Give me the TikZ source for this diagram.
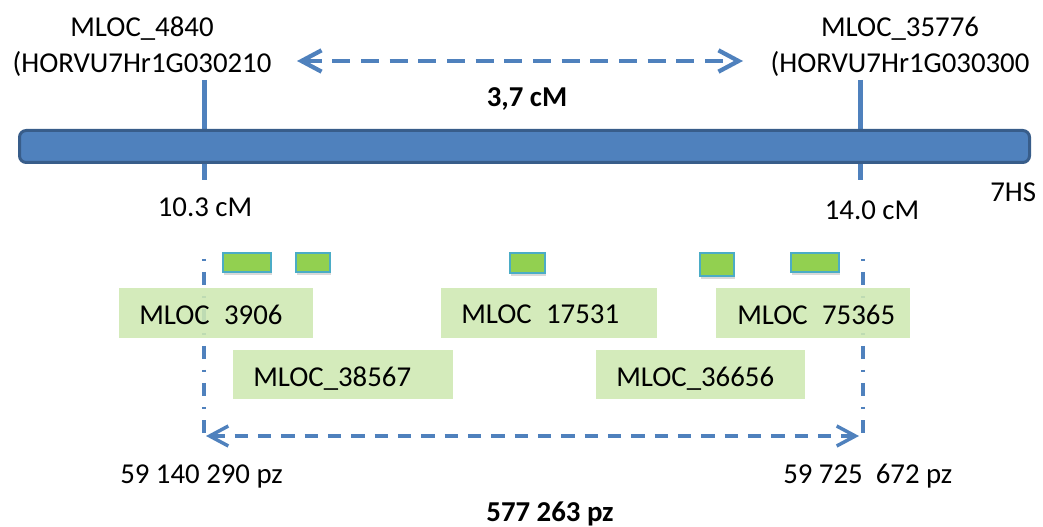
\documentclass[tikz,border=0pt]{standalone}
\usepackage{fontspec}
\setmainfont{Carlito}
\usetikzlibrary{arrows.meta,shadows}
\definecolor{barblue}{RGB}{79,129,189}
\definecolor{bardark}{RGB}{56,93,138}
\definecolor{lgreen}{RGB}{206,232,178}
\definecolor{sgreen}{RGB}{146,208,80}
\definecolor{sborder}{RGB}{75,172,198}
\begin{document}
\begin{tikzpicture}[x=0.75pt,y=-0.75pt,
  every node/.style={font=\fontsize{21.6}{26}\selectfont, inner sep=0pt},
  txt/.style={anchor=base},
  txtl/.style={anchor=base west},
  boldtxt/.style={anchor=base, font=\fontsize{21.6}{26}\selectfont\bfseries},
  tickline/.style={draw=barblue, line width=3.75pt},
  chrbar/.style={draw=bardark, fill=barblue, line width=2.25pt, rounded corners=5pt},
  toparrow/.style={draw=barblue, line width=3.2pt, dash pattern=on 13.5pt off 8pt,
     {Straight Barb[length=15pt,width=16pt]}-{Straight Barb[length=15pt,width=16pt]}},
  botarrow/.style={draw=barblue, line width=2.6pt, dash pattern=on 10pt off 7.5pt,
     {Straight Barb[length=14pt,width=15pt]}-{Straight Barb[length=14pt,width=15pt]}},
  dashdotline/.style={draw=barblue, line width=2.6pt, dash pattern=on 1.5pt off 8.25pt on 9.75pt off 8.25pt},
  sbox/.style={fill=sgreen, draw=sborder, line width=1.5pt,
     drop shadow={opacity=0.3, shadow xshift=0.5pt, shadow yshift=-2.5pt}},
  lbox/.style={fill=lgreen, fill opacity=0.88}
]
\useasboundingbox (0,0) rectangle (1043,527);

% marker ticks
\coordinate (t1a) at (204,80);  \coordinate (t1b) at (204,180);
\coordinate (t2a) at (860,80);  \coordinate (t2b) at (860,180);
\draw[tickline] (t1a) -- (t1b);
\draw[tickline] (t2a) -- (t2b);

% chromosome
\draw[chrbar] (19.5,130.5) rectangle (1029.5,162.5);

% top labels
\node[txt] (m1) at (142,37) {MLOC\_4840};
\node[txt] (h1) at (142,73) {(HORVU7Hr1G030210};
\node[txt] (m2) at (900,37) {MLOC\_35776};
\node[txt] (h2) at (900,73) {(HORVU7Hr1G030300};

% genetic distance arrow
\coordinate (ca) at (297,61);
\coordinate (cb) at (743,61);
\draw[toparrow] (ca) -- (cb);
\node[boldtxt] (d1) at (527,107) {3,7 cM};

\node[txt] (p1) at (205,217) {10.3 cM};
\node[txt] (p2) at (872,220) {14.0 cM};
\node[txtl] (chr) at (990,202) {7HS};

% dash-dot boundaries
\coordinate (v1a) at (204,259); \coordinate (v1b) at (204,440);
\coordinate (v2a) at (863,259); \coordinate (v2b) at (863,440);
\draw[dashdotline] (v1a) -- (v1b);
\draw[dashdotline] (v2a) -- (v2b);

% gene boxes
\filldraw[sbox] (223,253) rectangle (271,272);
\filldraw[sbox] (296,253) rectangle (330,272);
\filldraw[sbox] (510,253) rectangle (545,273);
\filldraw[sbox] (700,253) rectangle (734,276);
\filldraw[sbox] (791,253) rectangle (839,272);

% gene labels
\fill[lbox] (119,288) rectangle (313,338);
\node[txtl] (g1) at (139,325) {MLOC\phantom{\_}3906};
\fill[lbox] (233,350) rectangle (453,399);
\node[txtl] (g2) at (253,387) {MLOC\_38567};
\fill[lbox] (441,288) rectangle (657,338);
\node[txtl] (g3) at (461,324) {MLOC\phantom{\_}17531};
\fill[lbox] (596,350) rectangle (805,399);
\node[txtl] (g4) at (616,387) {MLOC\_36656};
\fill[lbox] (716,288) rectangle (910,338);
\node[txtl] (g5) at (737,325) {MLOC\phantom{\_}75365};

% physical distance arrow
\coordinate (ba) at (206,436);
\coordinate (bb) at (859,436);
\draw[botarrow] (ba) -- (bb);

\node[txtl] (b1) at (120,483) {59 140 290 pz};
\node[txtl] (b2) at (783,483) {59 725\ \ 672 pz};
\node[boldtxt] (d2) at (550,521) {577 263 pz};
\end{tikzpicture}
\end{document}
